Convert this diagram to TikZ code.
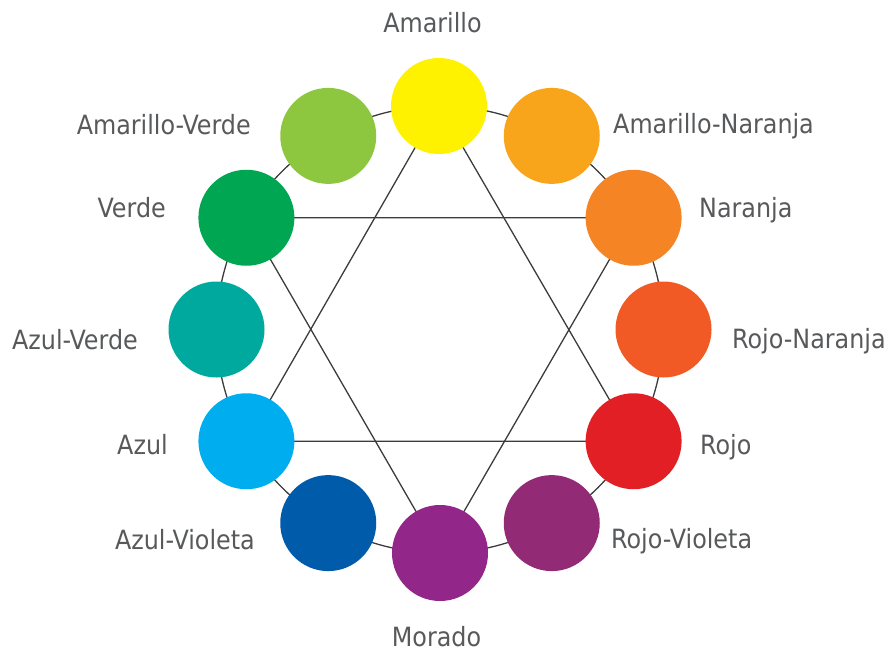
\documentclass[tikz,border=0pt]{standalone}
\usepackage{fontspec}
\setmainfont{DejaVu Sans Condensed}
\usepackage{tikz}
\definecolor{c1}{HTML}{FFF200}
\definecolor{c2}{HTML}{F9A51C}
\definecolor{c3}{HTML}{F58424}
\definecolor{c4}{HTML}{F15A25}
\definecolor{c5}{HTML}{E31F26}
\definecolor{c6}{HTML}{922A76}
\definecolor{c7}{HTML}{922789}
\definecolor{c8}{HTML}{005BAA}
\definecolor{c9}{HTML}{00AEEF}
\definecolor{c10}{HTML}{00A99D}
\definecolor{c11}{HTML}{00A651}
\definecolor{c12}{HTML}{8DC63F}
\definecolor{txt}{HTML}{58595B}
\definecolor{ln}{HTML}{3C3C3C}
\tikzset{
  dot/.style={circle, inner sep=0pt, minimum size=96pt},
  lab/.style={inner sep=0pt, text=txt, font=\fontsize{26.5}{30}\selectfont},
  link/.style={ln, line width=1.3pt}
}

\begin{document}
\begin{tikzpicture}[x=1pt,y=-1pt]
\useasboundingbox (0,0) rectangle (890,652);
\coordinate (am) at (439,106);
\coordinate (amna) at (551.75,135.9);
\coordinate (na) at (633.6,217.75);
\coordinate (rona) at (663.5,329.5);
\coordinate (ro) at (633.6,441.25);
\coordinate (rovi) at (551.75,523.1);
\coordinate (mo) at (440,553);
\coordinate (azvi) at (328.25,523.1);
\coordinate (az) at (246.4,441.25);
\coordinate (azve) at (216.5,329.5);
\coordinate (ve) at (246.4,217.75);
\coordinate (amve) at (328.25,135.9);

\draw[link] (440,329.5) circle (223.5pt);
\draw[link] (am) -- (ro) -- (az) -- cycle;
\draw[link] (ve) -- (na) -- (mo) -- cycle;

\node[dot, fill=c1] (dam) at (am) {};
\node[dot, fill=c2] (damna) at (amna) {};
\node[dot, fill=c3] (dna) at (na) {};
\node[dot, fill=c4] (drona) at (rona) {};
\node[dot, fill=c5] (dro) at (ro) {};
\node[dot, fill=c6] (drovi) at (rovi) {};
\node[dot, fill=c7] (dmo) at (mo) {};
\node[dot, fill=c8] (dazvi) at (azvi) {};
\node[dot, fill=c9] (daz) at (az) {};
\node[dot, fill=c10] (dazve) at (azve) {};
\node[dot, fill=c11] (dve) at (ve) {};
\node[dot, fill=c12] (damve) at (amve) {};

\node[lab, anchor=base] (lam) at (432.5,33) {Amarillo};
\node[lab, anchor=base west] (lamna) at (613,134) {Amarillo-Naranja};
\node[lab, anchor=base west] (lna) at (699,218) {Naranja};
\node[lab, anchor=base west] (lrona) at (732,348) {Rojo-Naranja};
\node[lab, anchor=base west] (lro) at (700,454) {Rojo};
\node[lab, anchor=base west] (lrovi) at (611,548) {Rojo-Violeta};
\node[lab, anchor=base] (lmo) at (436.5,646) {Morado};
\node[lab, anchor=base east] (lazvi) at (255,549) {Azul-Violeta};
\node[lab, anchor=base east] (laz) at (168,454) {Azul};
\node[lab, anchor=base east] (lazve) at (138,349) {Azul-Verde};
\node[lab, anchor=base east] (lve) at (166,218) {Verde};
\node[lab, anchor=base east] (lamve) at (251,135) {Amarillo-Verde};
\end{tikzpicture}
\end{document}
